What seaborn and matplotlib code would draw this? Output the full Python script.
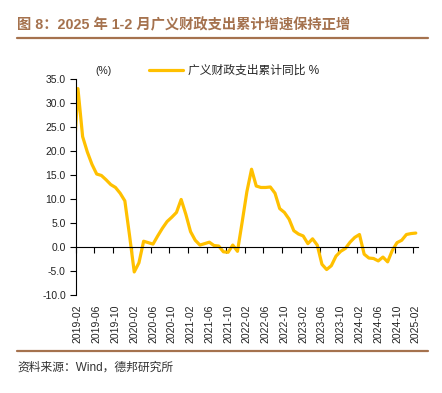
import matplotlib
matplotlib.use("Agg")
import pandas as pd
import numpy as np
import matplotlib.pyplot as plt
import seaborn as sns
from matplotlib.lines import Line2D

# monthly labels, 2019-01 .. 2025-02 (2019-01 only shows as the clipped start of the line)
months = list(pd.period_range("2019-01", "2025-02", freq="M").strftime("%Y-%m"))
growth = [16.0,
          33.0, 23.0, 19.8, 17.2, 15.2, 14.9, 14.0, 13.0, 12.4, 11.2, 9.6,
          2.4, -5.2, -3.3, 1.2, 0.9, 0.6, 2.3, 3.9, 5.3, 6.2, 7.2, 9.9,
          6.8, 3.2, 1.4, 0.4, 0.7, 1.0, 0.3, 0.2, -1.0, -1.1, 0.4, -0.9,
          5.2, 11.5, 16.2, 12.7, 12.4, 12.4, 12.5, 11.2, 8.0, 7.2, 5.8, 3.4,
          2.7, 2.3, 0.7, 1.7, 0.4, -3.6, -4.7, -3.9, -1.9, -0.9, -0.3, 1.0,
          2.0, 2.6, -1.5, -2.3, -2.4, -2.9, -2.1, -3.1, -0.7, 0.9, 1.4, 2.6,
          2.8, 2.9]
y_ticks = [35, 30, 25, 20, 15, 10, 5, 0, -5, -10]
series_name = "广义财政支出累计同比 %"
title = "图 8：2025 年 1-2 月广义财政支出累计增速保持正增"
source = "资料来源：Wind，德邦研究所"

df = pd.DataFrame({"pos": np.arange(len(months)), "month": months, "value": growth})

sns.set_style("white")
plt.rcParams["font.family"] = ["Liberation Sans", "Noto Sans CJK SC", "DejaVu Sans"]

brown = "#A5724E"
fig = plt.figure(figsize=(4.42, 3.93), dpi=100)
ax = fig.add_axes([0.171, 0.2494, 0.775, 0.5496])

sns.lineplot(data=df, x="pos", y="value", color="#FFC000", lw=2.3, ax=ax,
             label=series_name, legend=False)

ax.set_xlim(0.5, 73.5)
ax.set_ylim(-10, 35)
ax.set_yticks(y_ticks)
ax.set_yticklabels([f"{v:.1f}" for v in y_ticks], fontsize=7.5, color="#222222")
ax.tick_params(axis="y", direction="out", length=4, width=0.8, color="black", pad=3, left=True)

# x axis line at zero, tick marks on category boundaries
ax.spines["bottom"].set_position(("data", 0))
ax.spines["bottom"].set_color("black")
ax.spines["bottom"].set_linewidth(0.8)
ax.spines["left"].set_color("black")
ax.spines["left"].set_linewidth(0.8)
ax.spines["top"].set_visible(False)
ax.spines["right"].set_visible(False)
label_idx = list(range(1, len(months), 4))
ax.set_xticks([i - 0.5 for i in label_idx])
ax.set_xticklabels([])
ax.tick_params(axis="x", direction="out", length=4, width=0.8, color="black", bottom=True)
ax.set_xlabel("")
ax.set_ylabel("")

# labels at the bottom of the plot, centred on categories
sec = ax.secondary_xaxis("bottom")
sec.set_xticks(label_idx)
sec.set_xticklabels([months[i] for i in label_idx], rotation=90, fontsize=7.5, color="#222222")
sec.tick_params(length=0, pad=7)
sec.spines["bottom"].set_visible(False)

ax.legend(handles=[Line2D([0], [0], color="#FFC000", lw=2.3)], labels=[series_name],
          loc="center left", bbox_to_anchor=(0.323, 1 - 71 / 393), bbox_transform=fig.transFigure,
          frameon=False, fontsize=8.5, handlelength=2.9, handletextpad=0.4, borderpad=0)
fig.text(103 / 442, 1 - 71 / 393, "(%)", fontsize=7.5, ha="center", va="center", color="#222222")

fig.text(17 / 442, 1 - 25 / 393, title, fontsize=10.3, fontweight="bold", color=brown, va="center")
fig.add_artist(Line2D([17 / 442, 428 / 442], [1 - 38 / 393] * 2, color=brown, lw=1.6))
fig.add_artist(Line2D([17 / 442, 428 / 442], [1 - 351 / 393] * 2, color=brown, lw=1.6))
fig.text(17 / 442, 1 - 368 / 393, source, fontsize=8.5, color="#333333", va="center")

fig.savefig("out.png", dpi=100)
